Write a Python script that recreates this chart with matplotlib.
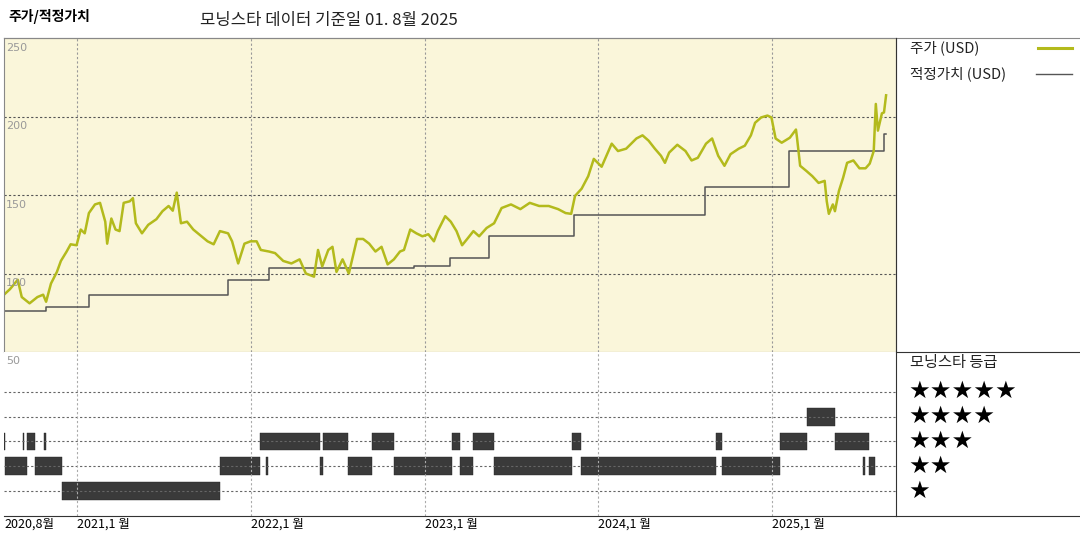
import matplotlib
matplotlib.use("Agg")
import matplotlib.pyplot as plt
from matplotlib.lines import Line2D

plt.rcParams['font.family'] = ['Noto Sans CJK KR', 'DejaVu Sans']

price_t = [2020.583,2020.617,2020.662,2020.685,2020.730,2020.775,2020.808,2020.825,2020.853,2020.887,2020.910,2020.943,2020.966,2021.000,
 2021.024,2021.047,2021.071,2021.106,2021.135,2021.165,2021.176,2021.200,2021.224,2021.247,2021.271,2021.306,2021.324,2021.341,2021.376,2021.412,2021.459,2021.494,2021.529,2021.553,2021.576,2021.600,2021.635,2021.671,2021.718,2021.753,2021.788,2021.824,2021.871,2021.894,2021.929,2021.965,2022.000,
 2022.035,2022.059,2022.106,2022.141,2022.188,2022.235,2022.282,2022.318,2022.365,2022.388,2022.412,2022.447,2022.471,2022.494,2022.529,2022.565,2022.612,2022.647,2022.682,2022.718,2022.753,2022.788,2022.824,2022.859,2022.882,2022.918,2022.953,2022.988,
 2023.022,2023.054,2023.076,2023.119,2023.151,2023.184,2023.216,2023.249,2023.281,2023.314,2023.357,2023.400,2023.443,2023.497,2023.551,2023.605,2023.659,2023.714,2023.768,2023.811,2023.843,2023.865,2023.903,2023.941,2023.973,
 2024.018,2024.076,2024.112,2024.159,2024.218,2024.253,2024.288,2024.324,2024.359,2024.382,2024.406,2024.453,2024.500,2024.535,2024.571,2024.618,2024.653,2024.688,2024.724,2024.759,2024.806,2024.841,2024.876,2024.900,2024.935,2024.971,2024.994,
 2025.018,2025.053,2025.100,2025.135,2025.141,2025.159,2025.194,2025.229,2025.265,2025.300,2025.312,2025.324,2025.347,2025.359,2025.382,2025.406,2025.429,2025.465,2025.500,2025.535,2025.559,2025.582,2025.594,2025.606,2025.629,2025.641,2025.653]
price_v = [86.5,90,96,85,81,85,86.5,82,93.6,101,108,114,118.6,118,
 128,125.6,138.5,144,145,133,119,135,128,127,145,146,148,132,125.6,131,134.6,139.7,143,140,151.5,132,133,128,123.7,120.5,118.6,127,125.6,120.5,106.4,119,120.5,
 120.5,115,114,113,108,106.4,109,100,98,115,104.5,115,117,101,109,100,122,122,119,114,117,105.8,109,114,115,128,125.6,123.7,
 125,120.5,127,136.5,133,127,118,122.5,127,123.7,129,132,141.7,144,141,145,143,143,141,138.5,138,149.4,154,162,173,
 168,182.7,178,179.5,186,188,184.6,179.5,175,170.5,177,182,178,172,173.7,182.7,186,175,168.6,176,179.5,181.4,188,196,199.4,200.6,199.4,
 186,183.3,186.5,191.7,186.5,168.6,165.4,162,157.7,159,146,138,144,139.7,152.6,161,170.5,172,167,167,170,178,208,191,202,202.6,213.5]

fair_t = [2020.583,2020.825,2021.071,2021.871,2022.106,2022.941,2023.146,2023.368,2023.859,2024.612,2025.094,2025.641,2025.653]
fair_v = [76.3,78.8,86.5,96,103.8,104.5,110,123.7,137,155,178,189,189]

rating_4 = [(2025.200,2025.359)]
rating_3 = [(2020.583,2020.589),(2020.690,2020.696),(2020.718,2020.763),(2020.814,2020.825),(2022.053,2022.400),(2022.418,2022.559),
            (2022.700,2022.824),(2023.157,2023.205),(2023.276,2023.400),(2023.849,2023.897),(2024.676,2024.712),(2025.041,2025.200),(2025.359,2025.553)]
rating_2 = [(2020.589,2020.718),(2020.763,2020.915),(2021.824,2022.053),(2022.088,2022.100),(2022.400,2022.418),(2022.559,2022.700),
            (2022.824,2023.157),(2023.205,2023.276),(2023.400,2023.849),(2023.897,2024.676),(2024.712,2025.041),(2025.518,2025.529),(2025.553,2025.588)]
rating_1 = [(2020.915,2021.824)]

tick_pos = [2020.583, 2021.0, 2022.0, 2023.0, 2024.0, 2025.0]
tick_lab = ['2020,8월', '2021,1 월', '2022,1 월', '2023,1 월', '2024,1 월', '2025,1 월']
y_ticks = [100, 150, 200, 250]

W, H = 1080, 540
fig = plt.figure(figsize=(10.8, 5.4), dpi=100)
def ax_rect(x0, y0, x1, y1):
    return [x0 / W, 1 - y1 / H, (x1 - x0) / W, (y1 - y0) / H]

XMIN, XMAX = 2020.583, 2025.71
ax = fig.add_axes(ax_rect(4, 38, 896, 352))
ax.set_facecolor('#FAF6DA')
ax.set_xlim(XMIN, XMAX); ax.set_ylim(50, 250)
for y in [100, 150, 200]:
    ax.axhline(y, color='#555', lw=0.8, ls=(0, (2, 2)))
for x in tick_pos[1:]:
    ax.axvline(x, color='#999', lw=0.8, ls=(0, (2, 2)))
ax.step(fair_t, fair_v, where='post', color='#555', lw=1.1)
ax.plot(price_t, price_v, color='#B3BA1C', lw=1.8)
for y in y_ticks:
    ax.text(XMIN + 0.01, y - 3, str(y), color='#999', fontsize=8, va='top', ha='left', family=['DejaVu Sans'])
ax.set_xticks([]); ax.set_yticks([])
for s in ax.spines.values():
    s.set_color('#888'); s.set_lw(0.8)

ax2 = fig.add_axes(ax_rect(4, 352, 896, 516))
ax2.set_xlim(XMIN, XMAX); ax2.set_ylim(0, 6.6)
for k in range(1, 6):
    ax2.axhline(k, color='#666', lw=0.8, ls=(0, (2, 2)))
for x in tick_pos[1:]:
    ax2.axvline(x, color='#aaa', lw=0.8, ls=(0, (2, 2)))
for k, segs in [(4, rating_4), (3, rating_3), (2, rating_2), (1, rating_1)]:
    ax2.broken_barh([(a, b - a) for a, b in segs], (k - 0.36, 0.72), facecolor='#3a3a3a', edgecolor='#222', lw=0.3)
ax2.text(XMIN + 0.01, 6.45, '50', color='#999', fontsize=8, va='top', family=['DejaVu Sans'])
ax2.set_yticks([])
ax2.set_xticks(tick_pos)
ax2.set_xticklabels(tick_lab, fontsize=9)
ax2.tick_params(axis='x', length=0, pad=1)
for lab in ax2.get_xticklabels():
    lab.set_ha('left')
for s in ['top', 'left', 'right']:
    ax2.spines[s].set_visible(False)
ax2.spines['bottom'].set_color('#333')

fig.add_artist(Line2D([4/W, 1], [1-38/H]*2, color='#888', lw=0.8))
fig.add_artist(Line2D([896/W, 1], [1-352/H]*2, color='#333', lw=0.8))
fig.add_artist(Line2D([896/W, 1], [1-516/H]*2, color='#333', lw=0.8))
fig.add_artist(Line2D([896/W]*2, [1-38/H, 1-516/H], color='#333', lw=0.8))

fig.text(8/W, 1-17/H, '주가/적정가치', fontsize=10, fontweight='bold', va='center')
fig.text(200/W, 1-20/H, '모닝스타 데이터 기준일 01. 8월 2025', fontsize=12, va='center', color='#222')
fig.text(910/W, 1-48/H, '주가 (USD)', fontsize=10.5, va='center', color='#222')
fig.add_artist(Line2D([1038/W, 1072/W], [1-48/H]*2, color='#B3BA1C', lw=2.2))
fig.text(910/W, 1-74/H, '적정가치 (USD)', fontsize=10.5, va='center', color='#222')
fig.add_artist(Line2D([1036/W, 1072/W], [1-74/H]*2, color='#555', lw=1.0))
fig.text(910/W, 1-362/H, '모닝스타 등급', fontsize=11, va='center', color='#222')
for n, yp in zip([5, 4, 3, 2, 1], [391, 416, 441, 466, 491]):
    fig.text(908/W, 1-yp/H, '★' * n, fontsize=17.5, va='center', family=['DejaVu Sans'])

fig.savefig('out.png', dpi=100)
